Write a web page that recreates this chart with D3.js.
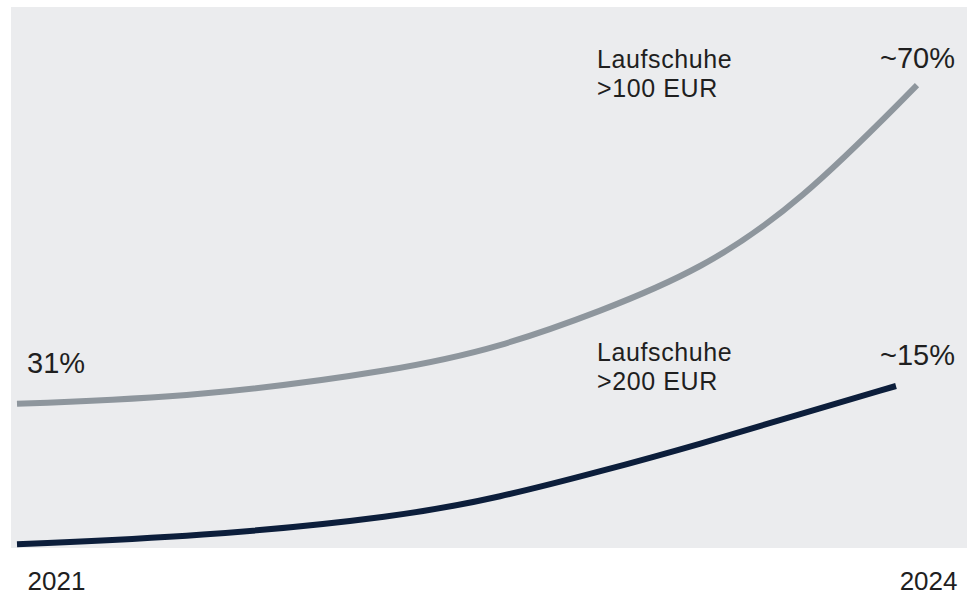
<!DOCTYPE html>
<html>
<head>
<meta charset="utf-8">
<script src="https://cdn.jsdelivr.net/npm/d3@7"></script>
<style>
  html, body { margin: 0; padding: 0; background: #ffffff; }
  svg { display: block; font-family: "Liberation Sans", Arial, Helvetica, sans-serif; }
</style>
</head>
<body>
<div id="chart"></div>
<script>
// Years (x) and illustrative curve position (index 0-100, not to scale with the % labels)
const yearsGray = [2021, 2021.61, 2022.28, 2022.61, 2022.94, 2023.28, 2023.61, 2024];
const valuesGray = [26.7, 28.0, 33.0, 37.2, 43.7, 51.5, 63.9, 85.7];

const yearsNavy = [2021, 2021.61, 2022.28, 2022.61, 2022.94, 2023.28, 2023.61, 2023.93];
const valuesNavy = [0.7, 2.1, 5.8, 9.4, 14.1, 19.3, 24.8, 30.0];

const seriesNames = ["Laufschuhe >100 EUR", "Laufschuhe >200 EUR"];
const seriesLabels = [["Laufschuhe", ">100 EUR"], ["Laufschuhe", ">200 EUR"]];
const startLabels = ["31%", ""];
const endLabels = ["~70%", "~15%"];
const tickLabels = ["2021", "2024"];

const W = 967, H = 597;
const svg = d3.select("#chart").append("svg").attr("width", W).attr("height", H);

const plot = { left: 11, top: 7, right: 967, bottom: 548 };
svg.append("rect")
  .attr("x", plot.left).attr("y", plot.top)
  .attr("width", plot.right - plot.left).attr("height", plot.bottom - plot.top)
  .attr("fill", "#ebecee");

const x = d3.scaleLinear().domain([2021, 2024]).range([17, 917]);
const y = d3.scaleLinear().domain([0, 100]).range([548, 8]);

const line = d3.line().x(d => x(d[0])).y(d => y(d[1])).curve(d3.curveBasis);

const series = [
  { xs: yearsGray, vs: valuesGray, color: "#8e969d" },
  { xs: yearsNavy, vs: valuesNavy, color: "#0c1e3b" }
];

series.forEach(s => {
  svg.append("path")
    .datum(s.xs.map((v, i) => [v, s.vs[i]]))
    .attr("d", line)
    .attr("fill", "none")
    .attr("stroke", s.color)
    .attr("stroke-width", 6)
    .attr("stroke-linecap", "butt");
});

const textColor = "#1f1f1f";

// Series labels
const labelPos = [{ x: 597, y: 68 }, { x: 597, y: 361 }];
seriesLabels.forEach((lines, i) => {
  const t = svg.append("text")
    .attr("x", labelPos[i].x).attr("y", labelPos[i].y)
    .attr("font-size", 25).attr("letter-spacing", 0.6).attr("fill", textColor);
  lines.forEach((ln, j) => {
    t.append("tspan").attr("x", labelPos[i].x).attr("dy", j === 0 ? 0 : 29).text(ln);
  });
});

// Start label
svg.append("text").attr("x", 27).attr("y", 373)
  .attr("font-size", 29).attr("fill", textColor).text(startLabels[0]);

// End labels
const endY = [68, 365];
endLabels.forEach((l, i) => {
  svg.append("text").attr("x", 955).attr("y", endY[i])
    .attr("text-anchor", "end")
    .attr("font-size", 29).attr("fill", textColor).text(l);
});

// Axis tick labels
const xAxis = d3.axisBottom(x).tickValues([2021, 2024]).tickFormat((d, i) => tickLabels[i]).tickSize(0);
const ax = svg.append("g").attr("transform", "translate(0,590)").call(xAxis);
ax.select(".domain").remove();
ax.selectAll("text")
  .attr("font-size", 26).attr("fill", textColor)
  .attr("font-family", "Liberation Sans, Arial, sans-serif")
  .attr("dy", 0).attr("y", 0)
  .attr("text-anchor", (d, i) => i === 0 ? "start" : "end")
  .attr("x", (d, i) => i === 0 ? 27 - x(2021) : 957 - x(2024));
</script>
</body>
</html>
